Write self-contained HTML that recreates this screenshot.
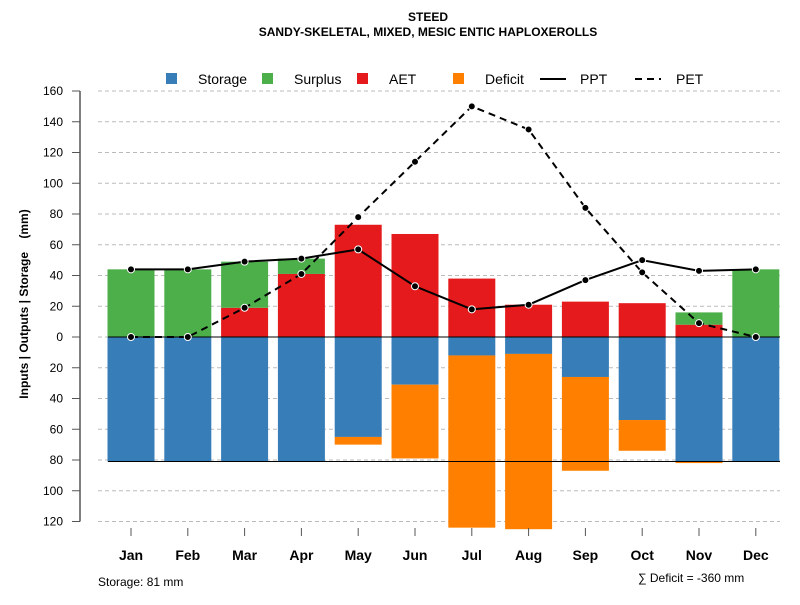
<!DOCTYPE html>
<html><head><meta charset="utf-8"><style>
body{margin:0;background:#fff}
svg{font-family:"Liberation Sans",Arial,sans-serif}
</style></head><body>
<svg id="c" width="800" height="600" xmlns="http://www.w3.org/2000/svg">
<text x="428" y="21" text-anchor="middle" font-size="12" font-weight="bold">STEED</text>
<text x="428" y="36" text-anchor="middle" font-size="12" font-weight="bold">SANDY-SKELETAL, MIXED, MESIC ENTIC HAPLOXEROLLS</text>
<text transform="translate(28,304) rotate(-90)" text-anchor="middle" font-size="12" font-weight="bold">Inputs | Outputs | Storage&#160;&#160;&#160;&#160;(mm)</text>
<text x="98" y="586" font-size="12">Storage: 81 mm</text>
<text x="638" y="582" font-size="12">∑ Deficit = -360 mm</text>
<g id="legend">
<rect x="166" y="73" width="11" height="11" fill="#377EB8"/>
<text x="198" y="84" font-size="14">Storage</text>
<rect x="262" y="73" width="11" height="11" fill="#4DAF4A"/>
<text x="294" y="84" font-size="14">Surplus</text>
<rect x="357" y="73" width="11" height="11" fill="#E41A1C"/>
<text x="389" y="84" font-size="14">AET</text>
<rect x="453" y="73" width="11" height="11" fill="#FF7F00"/>
<text x="485" y="84" font-size="14">Deficit</text>
<line x1="540" y1="79" x2="566" y2="79" stroke="#000" stroke-width="2"/>
<text x="580" y="84" font-size="14">PPT</text>
<line x1="635" y1="79" x2="661" y2="79" stroke="#000" stroke-width="2" stroke-dasharray="7,5"/>
<text x="676" y="84" font-size="14">PET</text>
</g>
<g id="grid"></g><g id="bars"></g><g id="lines"></g><g id="axes"></g>
</svg>
<script>
const months=["Jan","Feb","Mar","Apr","May","Jun","Jul","Aug","Sep","Oct","Nov","Dec"];
const ppt=[44,44,49,51,57,33,18,21,37,50,43,44];
const pet=[0,0,19,41,78,114,150,135,84,42,9,0];
const aet=[0,0,19,41,73,67,38,21,23,22,8,0];
const surplus=[44,44,30,10,0,0,0,0,0,0,8,44];
const storage=[81,81,81,81,65,31,12,11,26,54,81,81];
const deficit=[0,0,0,0,5,48,112,114,61,20,1,0];
const yTicks=[160,140,120,100,80,60,40,20,0,20,40,60,80,100,120];
const yVals=[160,140,120,100,80,60,40,20,0,-20,-40,-60,-80,-100,-120];
const storageMax=81;

const NS="http://www.w3.org/2000/svg";
const y=v=>337-v*1.5375;
const x=i=>131+i*56.8;
const bw=47;
function mk(tag,attrs,parent){const e=document.createElementNS(NS,tag);for(const k in attrs)e.setAttribute(k,attrs[k]);document.getElementById(parent).appendChild(e);return e;}

yVals.forEach((v,i)=>{
 const g=mk("line",{x1:98,x2:780,y1:y(v),y2:y(v),stroke:"#bbb","stroke-dasharray":"4,3"},"grid");
 
 
 const t=mk("line",{x1:72,x2:80,y1:y(v),y2:y(v),stroke:"#555"},"axes");
 
 
 const l=mk("text",{x:63,y:y(v)+4,"text-anchor":"end","font-size":"12"},"axes");
 l.textContent=yTicks[i];
 
 
});
const ax=mk("line",{x1:80,x2:80,y1:y(160),y2:y(-120),stroke:"#555","stroke-width":1.5},"axes");



months.forEach((m,i)=>{
 const cx=x(i),x0=cx-bw/2;
 const parts=[
  ["#377EB8",0,-storage[i],"bar-storage"],
  ["#FF7F00",-storage[i],-storage[i]-deficit[i],"bar-deficit"],
  ["#E41A1C",0,aet[i],"bar-aet"],
  ["#4DAF4A",aet[i],aet[i]+surplus[i],"bar-surplus"]];
 parts.forEach(p=>{
  if(p[1]===p[2])return;
  const r=mk("rect",{x:x0,width:bw,y:Math.min(y(p[1]),y(p[2])),height:Math.abs(y(p[1])-y(p[2])),fill:p[0]},"bars");
  
  
 });
 const t=mk("line",{x1:cx,x2:cx,y1:528,y2:536,stroke:"#555"},"axes");
 
 
 const l=mk("text",{x:cx,y:560,"text-anchor":"middle","font-size":"14","font-weight":"bold"},"axes");
 l.textContent=m;
 
 
});
const z=mk("line",{x1:108,x2:780,y1:y(0),y2:y(0),stroke:"#000"},"lines");


const s=mk("line",{x1:108,x2:780,y1:y(-storageMax),y2:y(-storageMax),stroke:"#000"},"lines");



function series(arr,dash,name){
 const p=mk("polyline",{points:arr.map((v,i)=>x(i)+","+y(v)).join(" "),fill:"none",stroke:"#000","stroke-width":2,"stroke-dasharray":dash},"lines");
 
 
 arr.forEach((v,i)=>{
  const c=mk("circle",{cx:x(i),cy:y(v),r:3.5,fill:"#000",stroke:"#fff","stroke-width":1},"lines");
  
  
 });
}
series(pet,"7,5","pet");
series(ppt,"none","ppt");
</script>
</body></html>
